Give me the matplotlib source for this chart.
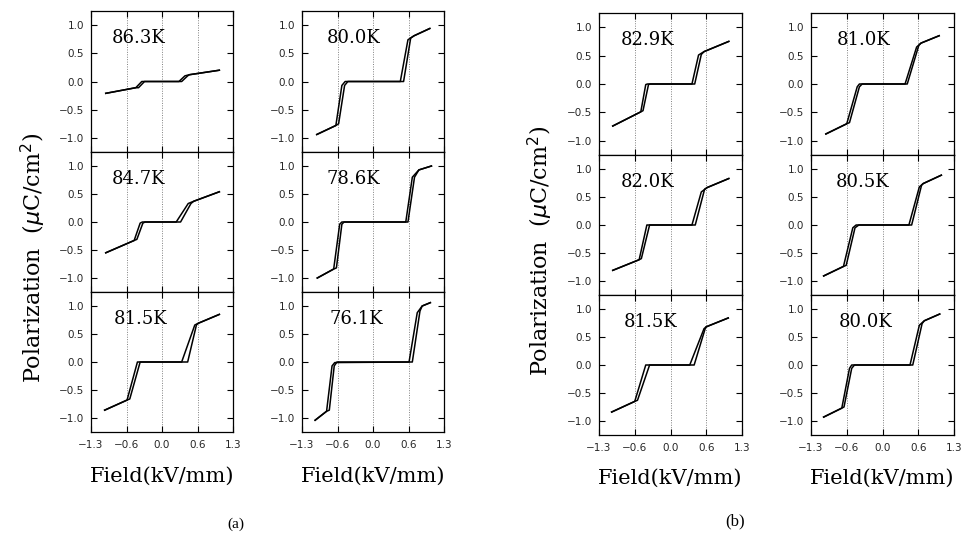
import numpy as np
import matplotlib.pyplot as plt

# ---- panel (a) ----
a_temps = ['86.3K', '84.7K', '81.5K', '80.0K', '78.6K', '76.1K']

a1_ox = [-1.03, -0.48, -0.37, 0.36, 0.47, 0.50, 1.05]
a1_oy = [-0.21, -0.11, 0.00, 0.00, 0.10, 0.12, 0.20]
a1_ix = [-1.03, -0.48, -0.43, -0.32, 0.31, 0.42, 0.50, 1.05]
a1_iy = [-0.21, -0.11, -0.11, 0.00, 0.00, 0.10, 0.12, 0.20]

a2_ox = [-1.03, -0.51, -0.40, -0.36, 0.34, 0.53, 0.58, 1.05]
a2_oy = [-0.55, -0.33, -0.02, 0.00, 0.00, 0.33, 0.37, 0.54]
a2_ix = [-1.03, -0.51, -0.46, -0.35, -0.31, 0.26, 0.48, 0.58, 1.05]
a2_iy = [-0.55, -0.33, -0.31, -0.02, 0.00, 0.00, 0.33, 0.37, 0.54]

a3_ox = [-1.05, -0.64, -0.45, 0.47, 0.63, 0.66, 1.05]
a3_oy = [-0.86, -0.68, 0.00, 0.00, 0.66, 0.69, 0.85]
a3_ix = [-1.05, -0.64, -0.59, -0.40, 0.36, 0.60, 0.66, 1.05]
a3_iy = [-0.86, -0.68, -0.66, 0.00, 0.00, 0.66, 0.69, 0.85]

a4_ox = [-1.03, -0.68, -0.57, -0.51, 0.56, 0.69, 0.75, 1.04]
a4_oy = [-0.94, -0.78, -0.07, 0.00, 0.00, 0.77, 0.81, 0.94]
a4_ix = [-1.03, -0.68, -0.63, -0.52, -0.46, 0.50, 0.64, 0.75, 1.04]
a4_iy = [-0.94, -0.78, -0.75, -0.07, 0.00, 0.00, 0.74, 0.81, 0.94]

a5_ox = [-1.02, -0.72, -0.61, -0.57, 0.64, 0.76, 0.84, 1.07]
a5_oy = [-1.00, -0.84, -0.04, 0.00, 0.00, 0.80, 0.93, 1.00]
a5_ix = [-1.02, -0.72, -0.67, -0.57, -0.53, 0.60, 0.72, 0.84, 1.07]
a5_iy = [-1.00, -0.84, -0.82, -0.04, 0.00, 0.00, 0.80, 0.93, 1.00]

a6_ox = [-1.06, -0.85, -0.75, -0.70, 0.72, 0.86, 0.90, 1.05]
a6_oy = [-1.04, -0.88, -0.07, -0.01, 0.00, 0.91, 1.00, 1.06]
a6_ix = [-1.06, -0.85, -0.80, -0.71, -0.66, 0.66, 0.81, 0.90, 1.05]
a6_iy = [-1.04, -0.88, -0.86, -0.07, 0.00, 0.00, 0.88, 1.00, 1.06]

# ---- panel (b) ----
b_temps = ['82.9K', '82.0K', '81.5K', '81.0K', '80.5K', '80.0K']

b1_ox = [-1.05, -0.54, -0.45, -0.42, 0.44, 0.56, 0.61, 1.06]
b1_oy = [-0.74, -0.49, -0.01, 0.00, 0.00, 0.52, 0.57, 0.75]
b1_ix = [-1.05, -0.54, -0.50, -0.40, -0.37, 0.39, 0.51, 0.61, 1.06]
b1_iy = [-0.74, -0.49, -0.47, -0.01, 0.00, 0.00, 0.51, 0.57, 0.75]

b2_ox = [-1.05, -0.57, -0.43, 0.45, 0.62, 0.67, 1.06]
b2_oy = [-0.81, -0.62, 0.00, 0.00, 0.64, 0.67, 0.83]
b2_ix = [-1.05, -0.57, -0.53, -0.38, 0.39, 0.56, 0.67, 1.06]
b2_iy = [-0.81, -0.62, -0.60, 0.00, 0.00, 0.59, 0.67, 0.83]

b3_ox = [-1.07, -0.65, -0.45, 0.43, 0.64, 0.67, 1.05]
b3_oy = [-0.84, -0.65, 0.00, 0.00, 0.68, 0.69, 0.84]
b3_ix = [-1.07, -0.65, -0.60, -0.38, 0.35, 0.61, 0.67, 1.05]
b3_iy = [-0.84, -0.65, -0.63, 0.00, 0.00, 0.65, 0.69, 0.84]

b4_ox = [-1.03, -0.65, -0.46, -0.42, 0.45, 0.66, 0.70, 1.03]
b4_oy = [-0.88, -0.70, -0.05, 0.00, 0.00, 0.68, 0.72, 0.85]
b4_ix = [-1.03, -0.65, -0.60, -0.42, -0.37, 0.41, 0.62, 0.70, 1.03]
b4_iy = [-0.88, -0.70, -0.68, -0.05, 0.00, 0.00, 0.65, 0.72, 0.85]

b5_ox = [-1.07, -0.71, -0.54, -0.48, 0.53, 0.71, 0.74, 1.07]
b5_oy = [-0.91, -0.74, -0.05, 0.00, 0.00, 0.71, 0.74, 0.89]
b5_ix = [-1.07, -0.71, -0.66, -0.50, -0.43, 0.48, 0.67, 0.74, 1.07]
b5_iy = [-0.91, -0.74, -0.72, -0.05, 0.00, 0.00, 0.68, 0.74, 0.89]

b6_ox = [-1.07, -0.74, -0.60, -0.56, 0.55, 0.72, 0.76, 1.04]
b6_oy = [-0.93, -0.77, -0.06, 0.00, 0.00, 0.74, 0.79, 0.91]
b6_ix = [-1.07, -0.74, -0.70, -0.56, -0.51, 0.50, 0.67, 0.76, 1.04]
b6_iy = [-0.93, -0.77, -0.75, -0.06, 0.00, 0.00, 0.71, 0.79, 0.91]

a_curves = [(a1_ox, a1_oy, a1_ix, a1_iy), (a2_ox, a2_oy, a2_ix, a2_iy),
            (a3_ox, a3_oy, a3_ix, a3_iy), (a4_ox, a4_oy, a4_ix, a4_iy),
            (a5_ox, a5_oy, a5_ix, a5_iy), (a6_ox, a6_oy, a6_ix, a6_iy)]
b_curves = [(b1_ox, b1_oy, b1_ix, b1_iy), (b2_ox, b2_oy, b2_ix, b2_iy),
            (b3_ox, b3_oy, b3_ix, b3_iy), (b4_ox, b4_oy, b4_ix, b4_iy),
            (b5_ox, b5_oy, b5_ix, b5_iy), (b6_ox, b6_oy, b6_ix, b6_iy)]

xtick_pos = [-1.3, -0.65, 0.0, 0.65, 1.3]
xtick_lab = ['\u22121.3', '\u22120.6', '0.0', '0.6', '1.3']
ytick_pos = [-1.0, -0.5, 0.0, 0.5, 1.0]
ytick_lab = ['\u22121.0', '\u22120.5', '0.0', '0.5', '1.0']

W, H = 967, 533
fig = plt.figure(figsize=(W / 100, H / 100), dpi=100)

serif = 'DejaVu Serif'
sans = 'DejaVu Sans'

def panel(x0, x1, y0, y1, curve, label, lab_x, bottom):
    ax = fig.add_axes([x0 / W, 1 - y1 / H, (x1 - x0) / W, (y1 - y0) / H])
    for g in [-0.65, 0.0, 0.65]:
        ax.axvline(g, color='0.5', lw=0.7, ls=(0, (1, 1.5)), zorder=1)
    ox, oy, ix, iy = curve
    ax.plot(ox, oy, color='black', lw=1.1, zorder=3)
    ax.plot(ix, iy, color='black', lw=1.1, zorder=3)
    ax.set_xlim(-1.3, 1.3)
    ax.set_ylim(-1.25, 1.25)
    ax.set_xticks(xtick_pos)
    ax.set_yticks(ytick_pos)
    ax.set_yticklabels(ytick_lab, family=sans, fontsize=7.5, color='0.15')
    if bottom:
        ax.set_xticklabels(xtick_lab, family=sans, fontsize=7.5, color='0.15')
    else:
        ax.set_xticklabels([])
    ax.tick_params(direction='in', top=True, right=True, length=4, width=0.8)
    ax.tick_params(axis='y', pad=5)
    ax.tick_params(axis='x', pad=6)
    for s in ax.spines.values():
        s.set_linewidth(0.9)
    ax.text(lab_x, 0.81, label, transform=ax.transAxes, family=serif,
            fontsize=13, va='center', ha='left')
    return ax

a_cols = [(91, 233), (302, 444)]
a_rows = [(11, 152), (152, 292), (292, 432)]
b_cols = [(599, 742), (811, 954)]
b_rows = [(13, 155), (155, 295), (295, 435)]
a_labx = [0.146, 0.146, 0.158, 0.175, 0.17, 0.194]
b_labx = [0.155, 0.155, 0.17, 0.178, 0.173, 0.192]

for c in range(2):
    for r in range(3):
        k = c * 3 + r
        panel(a_cols[c][0], a_cols[c][1], a_rows[r][0], a_rows[r][1],
              a_curves[k], a_temps[k], a_labx[k], r == 2)
        panel(b_cols[c][0], b_cols[c][1], b_rows[r][0], b_rows[r][1],
              b_curves[k], b_temps[k], b_labx[k], r == 2)

ylab = r'Polarization  ($\mu$C/cm$^2$)'
fig.text(33 / W, 1 - 258 / H, ylab, rotation=90, ha='center', va='center',
         family=serif, fontsize=16)
fig.text(540 / W, 1 - 251 / H, ylab, rotation=90, ha='center', va='center',
         family=serif, fontsize=16)

for cx in [162, 373]:
    fig.text(cx / W, 1 - 476 / H, 'Field(kV/mm)', ha='center', va='center',
             family=serif, fontsize=15)
for cx in [670, 882]:
    fig.text(cx / W, 1 - 478 / H, 'Field(kV/mm)', ha='center', va='center',
             family=serif, fontsize=15)

fig.text(236 / W, 1 - 524 / H, '(a)', ha='center', va='center',
         family='Liberation Serif', fontsize=11)
fig.text(735 / W, 1 - 521 / H, '(b)', ha='center', va='center',
         family='Liberation Serif', fontsize=12)

fig.savefig('out.png', dpi=100)
